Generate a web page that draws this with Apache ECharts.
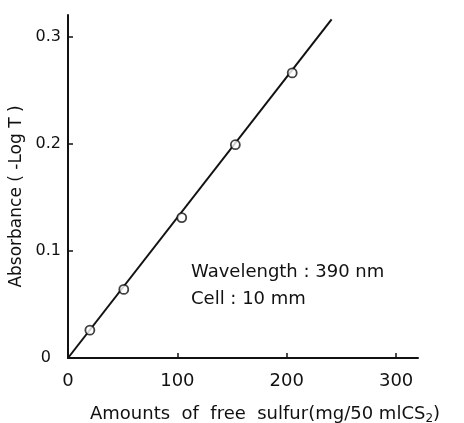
<!DOCTYPE html>
<html>
<head>
<meta charset="utf-8">
<script src="https://cdn.jsdelivr.net/npm/echarts@6/dist/echarts.min.js"></script>
<style>
  html, body { margin: 0; padding: 0; background: #fff; }
  #chart { width: 464px; height: 423px; }
</style>
</head>
<body>
<div id="chart"></div>
<script>
// measured points: amount of free sulfur (mg/50ml CS2) vs absorbance
const sulfur = [20, 51, 104, 153, 205]
const absorbance = [0.026, 0.064, 0.131, 0.199, 0.266]
// calibration line drawn through the origin
const fitLine = [[0, 0], [241, 0.316]]
const xTicks = [0, 100, 200, 300]
const yTicks = [0, 0.1, 0.2, 0.3]

const font = 'DejaVu Sans'
const chart = echarts.init(document.getElementById('chart'))

const option = {
  backgroundColor: '#fff',
  animation: false,
  grid: { left: 68, right: 46, top: 15, bottom: 65, outerBoundsMode: 'none', containLabel: false },
  xAxis: {
    type: 'value',
    min: 0,
    max: 320,
    name: 'Amounts  of  free  sulfur(mg/50 mlCS{s|2})',
    nameLocation: 'middle',
    nameGap: 45,
    nameTextStyle: {
      color: '#111', fontFamily: font, fontSize: 18, padding: [0, 0, 0, 44],
      rich: { s: { fontSize: 12, verticalAlign: 'bottom', padding: [10, 0, 0, 0], fontFamily: font, color: '#111' } }
    },
    axisLine: { lineStyle: { color: '#111', width: 2 } },
    axisTick: { inside: true, length: 5, lineStyle: { color: '#111', width: 1.5 }, customValues: xTicks.slice(1) },
    axisLabel: { color: '#111', fontFamily: font, fontSize: 18, margin: 14, customValues: xTicks },
    splitLine: { show: false }
  },
  yAxis: {
    type: 'value',
    min: 0,
    max: 0.32,
    name: 'Absorbance ( -Log T )',
    nameLocation: 'middle',
    nameGap: 36,
    nameTextStyle: { color: '#111', fontFamily: font, fontSize: 17, padding: [0, 20, 0, 0] },
    axisLine: { lineStyle: { color: '#111', width: 2 } },
    axisTick: { inside: true, length: 5, lineStyle: { color: '#111', width: 1.5 }, customValues: yTicks.slice(1) },
    axisLabel: {
      color: '#111', fontFamily: font, fontSize: 16, margin: 7, customValues: yTicks,
      formatter: v => (v === 0 ? '{z|0}' : String(v)),
      rich: { z: { fontFamily: font, fontSize: 16, color: '#111', padding: [0, 10, 0, 0] } }
    },
    splitLine: { show: false }
  },
  graphic: [
    { type: 'text', left: 191, top: 263, style: { text: 'Wavelength : 390 nm', font: '18px ' + font, fill: '#111' } },
    { type: 'text', left: 191, top: 290, style: { text: 'Cell : 10 mm', font: '18px ' + font, fill: '#111' } }
  ],
  series: [
    {
      type: 'line',
      data: fitLine,
      symbol: 'none',
      lineStyle: { color: '#111', width: 2 },
      z: 2
    },
    {
      type: 'scatter',
      data: sulfur.map((x, i) => [x, absorbance[i]]),
      symbol: 'circle',
      symbolSize: 9,
      itemStyle: { color: '#fff', borderColor: '#111', borderWidth: 1.8 },
      z: 3
    }
  ]
}

chart.setOption(option)
</script>
</body>
</html>
